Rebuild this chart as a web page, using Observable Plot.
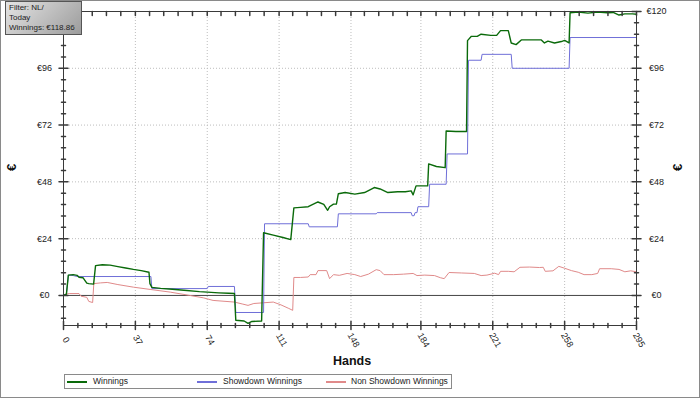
<!DOCTYPE html>
<html><head><meta charset="utf-8">
<script src="https://cdn.jsdelivr.net/npm/d3@7"></script>
<script src="https://cdn.jsdelivr.net/npm/@observablehq/plot@0.6"></script>
<style>
body{margin:0;background:#fff;font-family:"Liberation Sans",Arial,sans-serif;}
#wrap{position:relative;width:700px;height:398px;overflow:hidden;background:#fff;}
#wrap svg{position:absolute;left:0;top:0;}
#border{position:absolute;left:0;top:0;width:700px;height:398px;box-sizing:border-box;border:1px solid #8a8a8a;pointer-events:none;}
#filterbox{position:absolute;left:5px;top:1px;width:77px;height:34px;box-sizing:border-box;border:1px solid #555;background:linear-gradient(135deg,#e4e4e4,#9c9c9c);}
.ft{position:absolute;left:9px;font-size:8px;line-height:9px;color:#222;white-space:nowrap;}
#legend{position:absolute;left:64px;top:374px;width:388px;height:15px;box-sizing:border-box;border:1px solid #8a8a8a;font-size:8.5px;color:#222;}
.sw{position:absolute;top:6px;width:20px;height:1.5px;}
.lt{position:absolute;top:0;line-height:13px;white-space:nowrap;}
.ttl{position:absolute;font-weight:bold;color:#111;}
</style>
</head><body>
<div id="wrap">
  <div id="chart"></div>
  <div id="filterbox"></div>
  <div class="ft" style="top:3px">Filter: NL/</div>
  <div class="ft" style="top:13px">Today</div>
  <div class="ft" style="top:23px">Winnings: €118.86</div>
  <div id="legend"></div>
  <div class="ttl" style="left:333px;top:354px;font-size:12.5px;">Hands</div>
  <div class="ttl" style="left:8px;top:160px;font-size:13px;transform:rotate(-90deg);">€</div>
  <div class="ttl" style="left:674px;top:160px;font-size:13px;transform:rotate(-90deg);">€</div>
  <div id="border"></div>
</div>
<script>
// ---- data: [hand, euros] ----
const winnings = [[0,0],[1.5,0.5],[2.5,8.6],[5,8.8],[7,8.5],[8,7.7],[10,7.5],[12,5.2],[13,5],[15.5,4.8],[16.5,12.6],[20,13],[24,12.8],[28,12.2],[32,11.6],[36,11],[40,10.5],[44,9.8],[44.5,5],[45.5,3.4],[50,3],[56,2.6],[62,2.2],[70,1.6],[76,1.3],[80,1.1],[85,0.9],[88,0.8],[88.7,-10.5],[93,-10.8],[95,-11.8],[97,-11],[102,-10.8],[103,26.5],[108,25.5],[113,24.5],[117,23.6],[118.6,37],[122,37.2],[126,37.5],[131,39.5],[134,38.5],[136,36],[137,37.5],[139,38.6],[140.5,38.6],[141.5,43],[145,43.5],[150,42.8],[155,43.5],[160,45.6],[163,45],[167,43.5],[172,43.8],[176,43.8],[179,44.2],[180,42.5],[181.5,46.3],[187.5,46.3],[188,55.6],[192,54.5],[196.5,54],[197,69.5],[202,69.3],[207.5,69.3],[208,107.7],[210,109.5],[213,109.5],[215,110.4],[220,109.9],[223,109.9],[225,111.9],[229,111.9],[230.5,106.7],[233,106],[235.7,108],[246,108],[247.6,106.7],[249.4,107.5],[252.8,106.7],[256.3,107.3],[258,107.8],[260.3,106.7],[260.8,119.5],[265,119.8],[270,119.3],[275,119.8],[280,119.5],[283,119.6],[286,118.5],[289,119],[293,119],[295,118.86]];
const showdown = [[0,0],[1.5,0.5],[2.5,8.6],[5,8.4],[7,8],[45,8],[45.5,2.9],[74,2.9],[74.5,3.8],[88,3.8],[88.7,-7.2],[103,-7.2],[103.5,30.3],[126,30.3],[126.5,29],[141,29],[141.5,34.5],[161,34.5],[161.5,35],[179,35],[179.5,33.7],[180.5,33.7],[181,35],[182,35],[182.5,37.5],[188,37.5],[188.5,47],[197,47],[197.5,59.8],[208,59.8],[208.5,99.4],[215,99.4],[215.5,101.9],[230.5,101.9],[231,96],[260.3,96],[260.8,109],[295,109]];
const nonShowdown = [[0,0],[1,0.5],[3,0.8],[8,0.8],[9,-0.3],[12,-0.8],[13,-2.5],[15,-3],[15.6,5],[19,5.3],[22.5,5.5],[28,4.6],[36,3.5],[45,2.5],[55,1.4],[65,0],[72,-1],[77,-2.1],[88,-2.8],[92,-3.6],[95,-4.2],[98,-3.4],[108,-2.8],[112,-4],[116,-5.5],[118,-6.3],[118.6,7.6],[122,7.6],[126,7.8],[127,8.8],[130,8.8],[131,10.5],[135.5,10.5],[137,7.1],[139,8.8],[142,8.5],[146,9.3],[150,8.8],[153,8],[157,9],[161,10.9],[163,10.5],[165,8.8],[170,8.8],[175,9],[180,9.3],[182,8.4],[186,8.6],[191,8.4],[194,7.5],[196,7.1],[198.5,9.7],[205,9.5],[211.5,9.3],[215,8.4],[218,8.6],[222,9.4],[224,8.8],[225,10.2],[229,10.2],[232,10],[235,11.9],[240,12],[245,11.8],[247,11.9],[248,10.2],[252,10.4],[255,12.3],[258,11.5],[261.5,10.5],[265,9.8],[268,8.8],[272,8.8],[275,9.3],[276,11.3],[282,11.3],[286,11],[289,10],[292,10.4],[295,10]];

const seriesNames = ["Winnings","Showdown Winnings","Non Showdown Winnings"];
const seriesColors = ["#0a6a0a","#6f6fd8","#e08a8a"];

const xMajor = [0,37,74,111,148,184,221,258,295];
const xTickLabels = ["0","37","74","111","148","184","221","258","295"];
const xMinor = [7.4,14.8,22.1,29.5,44.3,51.6,59,66.4,81.1,88.5,95.9,103.3,118,125.4,132.8,140.1,154.9,162.3,169.6,177,191.8,199.1,206.5,213.9,228.6,236,243.4,250.8,265.5,272.9,280.3,287.6];
const yMajor = [0,24,48,72,96,120];
const yTickLabels = ["€0","€24","€48","€72","€96","€120"];
const yMinor = [-9.6,-4.8,4.8,9.6,14.4,19.2,28.8,33.6,38.4,43.2,52.8,57.6,62.4,67.2,76.8,81.6,86.4,91.2,100.8,105.6,110.4,115.2];
// the left "€120" label sits under the filter box in the reference, so only the rest are drawn on the left
const yLeftLabelled = [0,24,48,72,96];

// legend
const leg = document.getElementById("legend");
const legPos = [[2,28],[132,158],[261,286]];
seriesNames.forEach((n,i)=>{
  const s=document.createElement("div");s.className="sw";s.style.left=legPos[i][0]+"px";s.style.background=seriesColors[i];leg.appendChild(s);
  const t=document.createElement("div");t.className="lt";t.style.left=legPos[i][1]+"px";t.textContent=n;leg.appendChild(t);
});

const tickShape = {draw(ctx, l){ ctx.moveTo(0,0); ctx.lineTo(0,-l); }};
const axisColor = "#3a3a3a";
const toRows = (arr)=>arr.map(([h,v])=>({h,v}));

const chart = Plot.plot({
  width: 700, height: 398,
  marginLeft: 63, marginRight: 64, marginTop: 11, marginBottom: 73,
  style: {fontFamily: "Liberation Sans, Arial, sans-serif", fontSize: "9px", background: "transparent", color: "#222"},
  x: {domain: [0,295], axis: null},
  y: {domain: [-12.7,120], axis: null},
  marks: [
    Plot.ruleX(xMajor.slice(1,-1), {stroke: "#bdbdbd", strokeDasharray: "1,2"}),
    Plot.ruleY(yMajor.slice(1,-1), {stroke: "#bdbdbd", strokeDasharray: "1,2"}),
    Plot.ruleY([0], {stroke: "#444", strokeWidth: 1}),
    Plot.line(toRows(nonShowdown), {x: "h", y: "v", stroke: seriesColors[2], strokeWidth: 1}),
    Plot.line(toRows(showdown), {x: "h", y: "v", stroke: seriesColors[1], strokeWidth: 1}),
    Plot.line(toRows(winnings), {x: "h", y: "v", stroke: seriesColors[0], strokeWidth: 1.4}),
    Plot.frame({stroke: axisColor}),
    // bottom ticks
    Plot.vector(xMajor, {x: d=>d, frameAnchor: "bottom", length: 8, anchor: "middle", rotate: 0, shape: tickShape, stroke: axisColor}),
    Plot.vector(xMinor, {x: d=>d, frameAnchor: "bottom", length: 4, anchor: "middle", rotate: 0, shape: tickShape, stroke: axisColor}),
    // top ticks (inward)
    Plot.vector(xMinor.concat(xMajor), {x: d=>d, frameAnchor: "top", length: 4, anchor: "start", rotate: 180, shape: tickShape, stroke: axisColor}),
    // left/right ticks
    Plot.vector(yMajor, {y: d=>d, frameAnchor: "left", length: 9, anchor: "middle", rotate: 90, shape: tickShape, stroke: axisColor}),
    Plot.vector(yMinor, {y: d=>d, frameAnchor: "left", length: 4, anchor: "middle", rotate: 90, shape: tickShape, stroke: axisColor}),
    Plot.vector(yMajor, {y: d=>d, frameAnchor: "right", length: 9, anchor: "middle", rotate: 90, shape: tickShape, stroke: axisColor}),
    Plot.vector(yMinor, {y: d=>d, frameAnchor: "right", length: 4, anchor: "middle", rotate: 90, shape: tickShape, stroke: axisColor}),
    // labels
    Plot.text(yLeftLabelled, {y: d=>d, frameAnchor: "left", dx: -19, text: (d,i)=>yTickLabels[i], textAnchor: "middle", fill: "#222"}),
    Plot.text(yMajor, {y: d=>d, frameAnchor: "right", dx: 20, text: (d,i)=>yTickLabels[i], textAnchor: "middle", fill: "#222"}),
    Plot.text(xMajor, {x: d=>d, frameAnchor: "bottom", dy: 16, rotate: 60, text: (d,i)=>xTickLabels[i], textAnchor: "middle", fill: "#222"})
  ]
});
document.getElementById("chart").appendChild(chart);
</script>
</body></html>
